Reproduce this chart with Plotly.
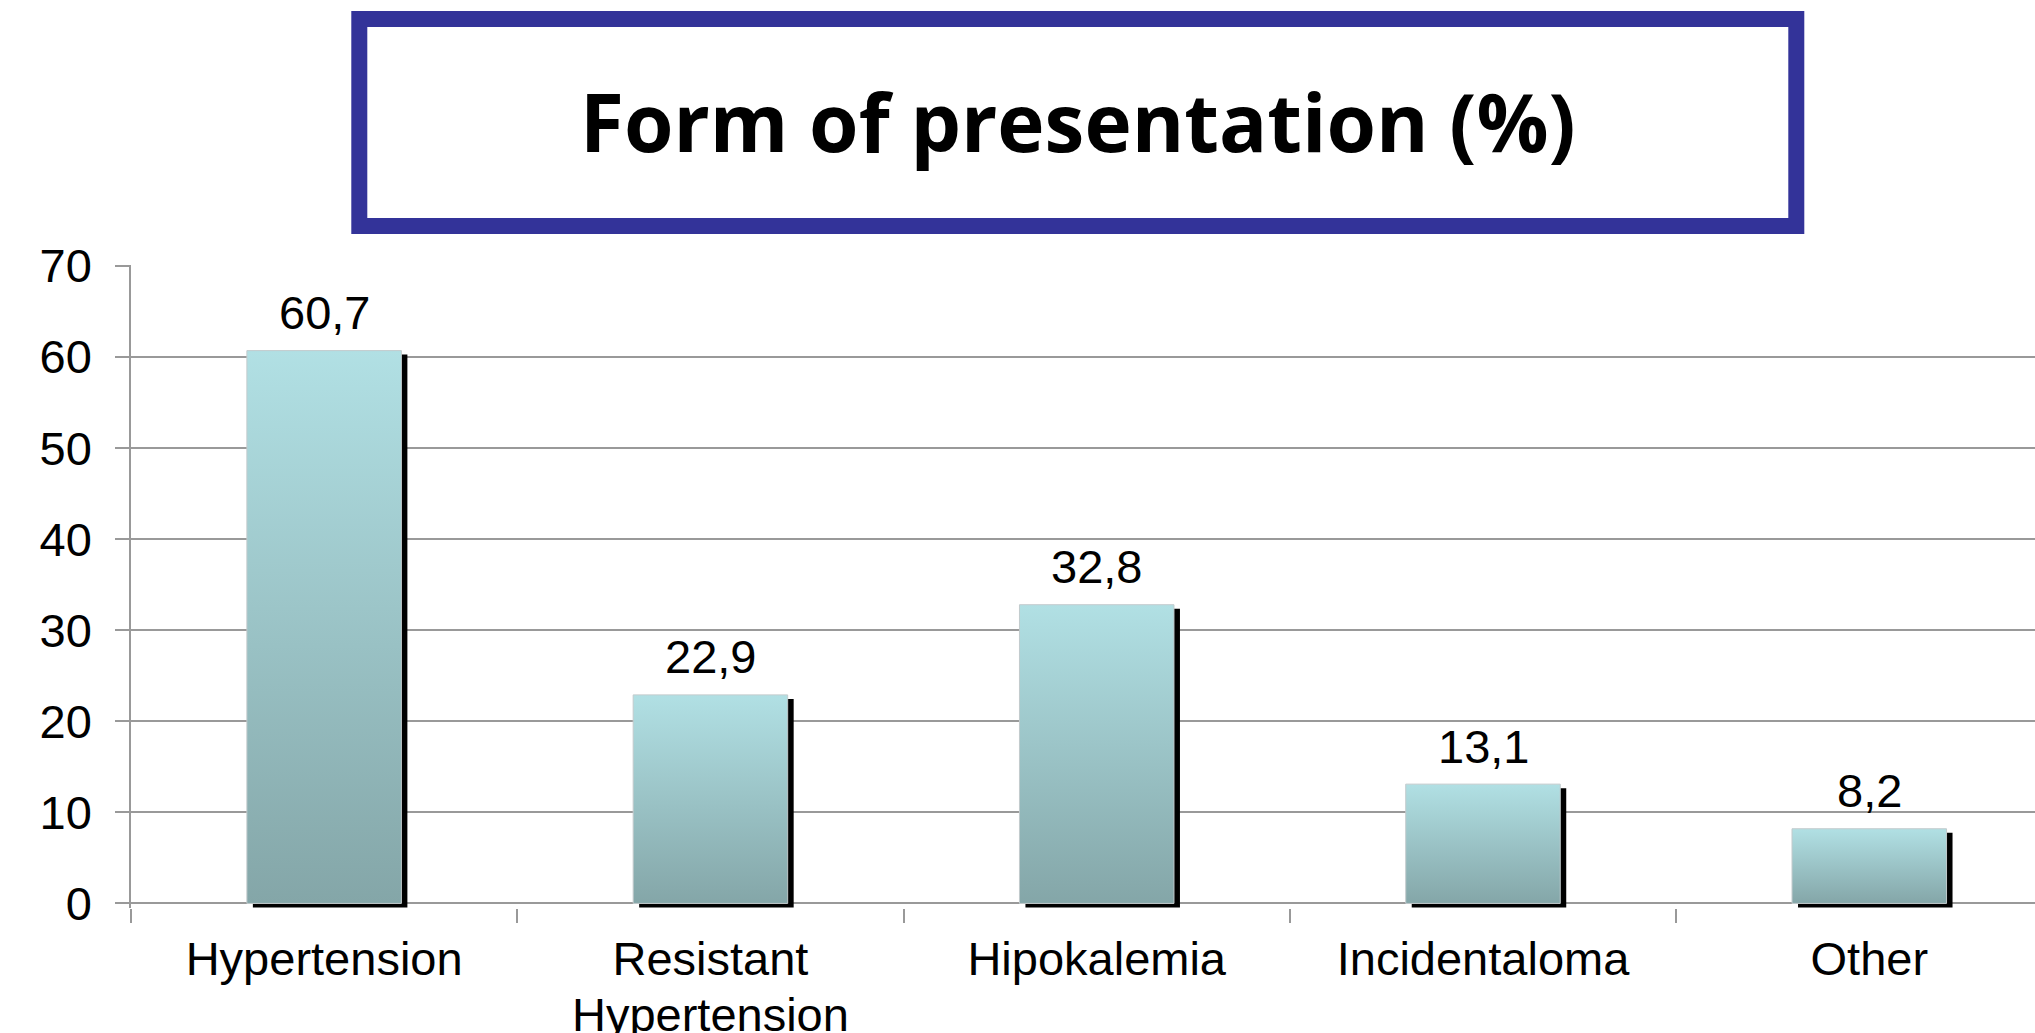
import plotly.graph_objects as go

# Presentation forms and their share (%)
categories = ["Hypertension", "Resistant<br>Hypertension", "Hipokalemia", "Incidentaloma", "Other"]
values = [60.7, 22.9, 32.8, 13.1, 8.2]
value_labels = ["60,7", "22,9", "32,8", "13,1", "8,2"]
y_ticks = [0, 10, 20, 30, 40, 50, 60, 70]

W, H = 2035, 1033
M_L, M_R, M_T, M_B = 131, 0, 265, 125

BAR_HALF = 0.2          # half bar width, in category units
SHADOW_DX = 0.0155      # drop-shadow offset to the right (category units)
SHADOW_DY = 0.44        # drop-shadow offset downward (value units)

TOP_COLOR = "#B1E0E4"
BOTTOM_COLOR = "#84A6A8"
GRID = "#999999"
AXIS_FONT = "Liberation Sans, Arial, sans-serif"
LABEL_SIZE = 47
# category labels use a slightly smaller base size so wrapped lines sit tighter
LINE_BASE_SIZE = 43.6

fig = go.Figure()

for i, v in enumerate(values):
    x0, x1 = i - BAR_HALF, i + BAR_HALF
    # dark drop shadow behind the bar
    fig.add_trace(go.Scatter(
        x=[x0 + SHADOW_DX, x1 + SHADOW_DX, x1 + SHADOW_DX, x0 + SHADOW_DX, x0 + SHADOW_DX],
        y=[-SHADOW_DY, -SHADOW_DY, v - SHADOW_DY, v - SHADOW_DY, -SHADOW_DY],
        mode="lines", fill="toself", fillcolor="#000000",
        line=dict(width=0), hoverinfo="skip", showlegend=False,
    ))
    # bar body with a vertical light-to-dark gradient
    fig.add_trace(go.Scatter(
        x=[x0, x1, x1, x0, x0],
        y=[0, 0, v, v, 0],
        mode="lines", fill="toself",
        fillgradient=dict(type="vertical",
                          colorscale=[[0, BOTTOM_COLOR], [1, TOP_COLOR]]),
        line=dict(color="#c2cacc", width=1),
        hoverinfo="skip", showlegend=False,
    ))
    # value label above the bar
    fig.add_annotation(
        x=i, y=v, xref="x", yref="y", text=value_labels[i],
        showarrow=False, yanchor="middle", yshift=38,
        font=dict(family=AXIS_FONT, size=LABEL_SIZE, color="#000000"),
    )

plot_w = W - M_L - M_R
plot_h = H - M_T - M_B


def px_x(px):
    return (px - M_L) / plot_w


def px_y(py):
    return (H - M_B - py) / plot_h


# framed title box above the plot
fig.add_shape(
    type="rect", xref="paper", yref="paper",
    x0=px_x(359.3), x1=px_x(1796.3), y0=px_y(226), y1=px_y(19),
    line=dict(color="#333399", width=16), fillcolor="#ffffff", layer="above",
)
fig.add_annotation(
    xref="paper", yref="paper", x=px_x(1078), y=px_y(121),
    text="<b>Form of presentation (%)</b>", showarrow=False,
    xanchor="center", yanchor="middle",
    font=dict(family="Open Sans, sans-serif", size=80, color="#000000"),
)

tick_text = [
    "<br>".join(f"<span style='font-size:{LABEL_SIZE}px'>{part}</span>" for part in c.split("<br>"))
    for c in categories
]

fig.update_layout(
    template="none",
    width=W, height=H,
    margin=dict(l=M_L, r=M_R, t=M_T, b=M_B, pad=0, autoexpand=False),
    paper_bgcolor="#ffffff", plot_bgcolor="#ffffff",
    hovermode=False,
    xaxis=dict(
        automargin=False,
        range=[-0.5, 4.429],
        tickmode="array", tickvals=list(range(len(categories))), ticktext=tick_text,
        ticks="", showgrid=False, zeroline=False, showline=False,
        tickfont=dict(family=AXIS_FONT, size=LINE_BASE_SIZE, color="#000000"),
        ticklabelstandoff=22,
        minor=dict(
            tickmode="array",
            tickvals=[k - 0.5 for k in range(len(categories) + 1)],
            ticks="outside", ticklen=14, tickwidth=1.5, tickcolor=GRID,
            showgrid=False,
        ),
    ),
    yaxis=dict(
        automargin=False,
        range=[-0.5, 70.1],
        tickmode="array", tickvals=y_ticks,
        showgrid=True, gridcolor=GRID, gridwidth=1.5,
        zeroline=False,
        showline=True, linecolor=GRID, linewidth=1.5,
        ticks="outside", ticklen=14, tickwidth=1.5, tickcolor=GRID,
        tickfont=dict(family=AXIS_FONT, size=LABEL_SIZE, color="#000000"),
        ticklabelstandoff=14,
    ),
)

fig.write_html("out.html")
